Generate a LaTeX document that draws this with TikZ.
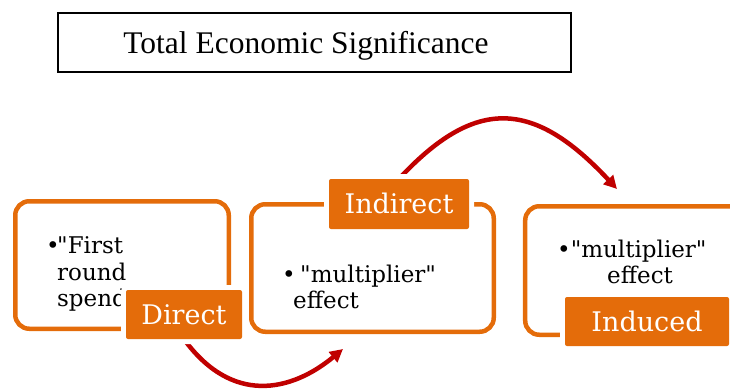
\documentclass[tikz,border=0pt]{standalone}
\usepackage{fontspec}
\setmainfont{DejaVu Serif}[Ligatures=TeXOff]
\newfontfamily\titlefont{Liberation Serif}
\usetikzlibrary{arrows.meta,backgrounds}
\definecolor{orng}{HTML}{E46C0A}
\definecolor{redarr}{HTML}{C00000}
\newcommand{\sq}{\char34\relax}
\tikzset{
  obox/.style={draw=orng, line width=4.5pt, rounded corners=14pt},
  lbl/.style={fill=orng, rounded corners=2pt, text=white, font=\fontsize{27}{30}\selectfont,
    text height=19.7pt, text depth=0pt, inner sep=0pt,
    preaction={draw=white, line width=10pt}},
  body/.style={anchor=base west, inner sep=0pt, font=\fontsize{23}{26}\selectfont},
  flow/.style={draw=redarr, line width=4.5pt, -{Triangle[length=13pt,width=13pt]}},
}
\begin{document}
\begin{tikzpicture}[x=1pt,y=-1pt]
\clip (0,0) rectangle (730,389);
% title
\node[draw, line width=1.8pt, minimum width=513pt, minimum height=59pt, inner sep=0pt] (title) at (314.5,42.5) {};
\node[anchor=base, inner sep=0pt, font=\titlefont\fontsize{31.5}{34}\selectfont] (titletext) at (306,53) {Total Economic Significance};
% boxes
\node[obox, minimum width=213.5pt, minimum height=127.5pt] (box1) at (122,265) {};
\node[obox, minimum width=242.5pt, minimum height=127.5pt] (box2) at (372.5,268) {};
\node[obox, minimum width=234.75pt, minimum height=128.5pt] (box3) at (642.6,270.5) {};
% texts
\node[body] (b1) at (46,253) {•};
\node[body] (t1a) at (57,253) {\sq First};
\node[body] (t1b) at (57,280) {round};
\node[body] (t1c) at (57,306) {spend};
\node[body] (b2) at (282,282) {•};
\node[body] (t2a) at (300,282) {\sq multiplier\sq};
\node[body] (t2b) at (293,308) {effect};
\node[body] (t3a) at (557,257) {•\sq multiplier\sq};
\node[body] (t3b) at (607,283) {effect};
% labels
\node[lbl, minimum width=116pt, minimum height=49pt] (direct) at (184,314.5) {Direct};
\node[lbl, minimum width=140pt, minimum height=50pt] (indirect) at (399,204) {Indirect};
\node[lbl, minimum width=164pt, minimum height=49pt] (induced) at (647,321.5) {Induced};
% arrows
\coordinate (e1) at (617,189);
\coordinate (e2) at (343,349);
\begin{pgfonlayer}{background}
\draw[flow] (indirect.north) .. controls (476,96) and (534,100) .. (e1);
\draw[flow] (direct.south) .. controls (232,405) and (291,392) .. (e2);
\end{pgfonlayer}
\end{tikzpicture}
\end{document}
